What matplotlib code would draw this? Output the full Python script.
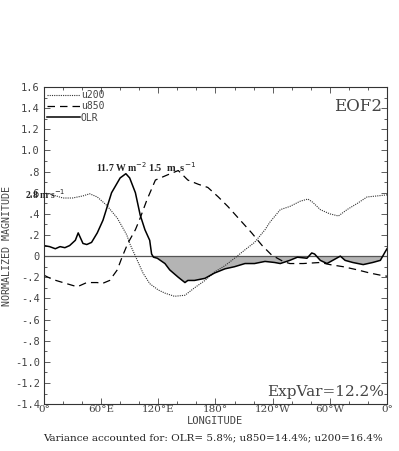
import numpy as np
import matplotlib
matplotlib.use("Agg")
import matplotlib.pyplot as plt
from matplotlib.ticker import MultipleLocator, FuncFormatter

# values (longitude in degrees east, normalized magnitude)
olr_lon = [0, 6, 12, 17, 22, 27, 33, 36, 41, 45, 50, 56, 62, 71, 80, 86, 90, 96, 101, 106,
           111, 113, 115, 119, 127, 132, 141, 148, 151, 158, 169, 179, 190, 200, 211, 221,
           232, 242, 248, 258, 266, 276, 281, 284, 290, 297, 303, 311, 316, 324, 335, 345,
           353, 358, 360]
olr_val = [0.10, 0.09, 0.07, 0.09, 0.08, 0.10, 0.15, 0.22, 0.12, 0.11, 0.13, 0.22, 0.34,
           0.60, 0.74, 0.78, 0.74, 0.60, 0.39, 0.25, 0.15, 0.02, -0.01, -0.02, -0.07, -0.13,
           -0.20, -0.25, -0.23, -0.23, -0.21, -0.16, -0.12, -0.10, -0.07, -0.07, -0.05, -0.06,
           -0.07, -0.04, -0.01, -0.02, 0.03, 0.02, -0.04, -0.07, -0.04, 0.00, -0.04, -0.06,
           -0.08, -0.06, -0.04, 0.04, 0.07]

u850_lon = [0, 9, 20, 35, 45, 56, 61, 69, 77, 82, 88, 96, 101, 108, 117, 130, 141, 151, 162,
            172, 183, 193, 204, 218, 229, 239, 251, 258, 272, 290, 300, 314, 329, 342, 353, 360]
u850_val = [-0.18, -0.22, -0.25, -0.29, -0.25, -0.25, -0.26, -0.23, -0.13, -0.01, 0.12, 0.25,
            0.36, 0.53, 0.72, 0.77, 0.81, 0.72, 0.68, 0.65, 0.56, 0.47, 0.36, 0.22, 0.10, 0.01,
            -0.05, -0.07, -0.07, -0.06, -0.08, -0.10, -0.13, -0.16, -0.18, -0.19]

u200_lon = [0, 9, 20, 30, 41, 48, 56, 66, 77, 87, 90, 98, 104, 111, 120, 127, 137, 148, 158,
            169, 179, 190, 200, 211, 221, 232, 237, 248, 258, 269, 277, 282, 290, 300, 309,
            318, 329, 339, 350, 360]
u200_val = [0.60, 0.58, 0.55, 0.55, 0.57, 0.59, 0.56, 0.48, 0.36, 0.20, 0.12, -0.04, -0.16,
            -0.26, -0.32, -0.35, -0.38, -0.37, -0.30, -0.23, -0.15, -0.09, -0.02, 0.06, 0.13,
            0.25, 0.32, 0.44, 0.47, 0.52, 0.54, 0.51, 0.44, 0.40, 0.38, 0.44, 0.50, 0.56,
            0.57, 0.58]

xtick_pos = [0, 60, 120, 180, 240, 300, 360]
xtick_lab = ["0°", "60°E", "120°E", "180°", "120°W", "60°W", "0°"]

mono = "DejaVu Sans Mono"
serif = "DejaVu Serif"
tserif = "Liberation Serif"
grey = "#444444"

fig = plt.figure(figsize=(3.99, 4.51), dpi=100)
ax = fig.add_axes([0.110, 0.104, 0.860, 0.703])

olr = np.array(olr_val)
ax.fill_between(olr_lon, olr, 0, where=olr < 0, interpolate=True, color="#b4b4b4", lw=0)
ax.axhline(0, color="#555555", lw=0.9)

ax.plot(u200_lon, u200_val, color="#333333", lw=0.8, ls=(0, (1, 1)), label="u200")
ax.plot(u850_lon, u850_val, color="black", lw=0.9, ls=(0, (6, 4)), label="u850")
ax.plot(olr_lon, olr_val, color="black", lw=1.1, label="OLR")

ax.set_xlim(0, 360)
ax.set_ylim(-1.4, 1.6)
ax.set_xticks(xtick_pos)
ax.set_xticklabels(xtick_lab, fontfamily=serif, fontsize=7.5)
ax.xaxis.set_minor_locator(MultipleLocator(20))
ax.yaxis.set_major_locator(MultipleLocator(0.2))
ax.yaxis.set_minor_locator(MultipleLocator(0.1))


def ylab(v, pos):
    s = f"{v:.1f}"
    if s in ("0.0", "-0.0"):
        return "0"
    return s.replace("0.", ".") if abs(v) < 1 else s


ax.yaxis.set_major_formatter(FuncFormatter(ylab))
for lab in ax.get_yticklabels():
    lab.set_fontfamily(mono)
ax.tick_params(which="both", direction="in", top=True, right=True, colors=grey,
               labelcolor=grey, width=0.6)
ax.tick_params(which="major", length=4, labelsize=7.5, pad=3)
ax.tick_params(which="minor", length=2.5)
ax.tick_params(axis="x", pad=1, labelsize=7.5)
for s in ax.spines.values():
    s.set_linewidth(0.8)
    s.set_color("#333333")

ax.set_xlabel("LONGITUDE", fontfamily=mono, fontsize=7.5, color=grey, labelpad=1)
ax.set_ylabel("NORMALIZED MAGNITUDE", fontfamily=mono, fontsize=7.2, color=grey, labelpad=2)

leg = ax.legend(loc="upper left", frameon=False, handlelength=3.4, handletextpad=0.1,
                labelspacing=0.15, borderaxespad=0.2, borderpad=0.1,
                prop={"family": mono, "size": 7})
for t in leg.get_texts():
    t.set_color(grey)

ax.text(0.985, 0.965, "EOF2", transform=ax.transAxes, ha="right", va="top",
        fontfamily=serif, fontsize=12, color=grey)
ax.text(0.99, 0.015, "ExpVar=12.2%", transform=ax.transAxes, ha="right", va="bottom",
        fontfamily=serif, fontsize=11, color=grey)

ax.text(55, 0.84, r"11.7 W m$^{-2}$", ha="left", va="center", fontfamily=tserif,
        fontsize=7, fontweight="bold", color="#222222")
ax.text(109, 0.84, r"1.5  m  s$^{-1}$", ha="left", va="center", fontfamily=tserif,
        fontsize=7.5, fontweight="bold", color="#222222")
ax.text(-20, 0.59, r"2.8 m s$^{-1}$", ha="left", va="center", fontfamily=tserif,
        fontsize=7, fontweight="bold", color="#222222")

fig.text(0.533, 0.018, "Variance accounted for: OLR= 5.8%; u850=14.4%; u200=16.4%",
         ha="center", va="bottom", fontfamily=serif, fontsize=7.5, color="#222222")

fig.savefig("out.png", dpi=100)
